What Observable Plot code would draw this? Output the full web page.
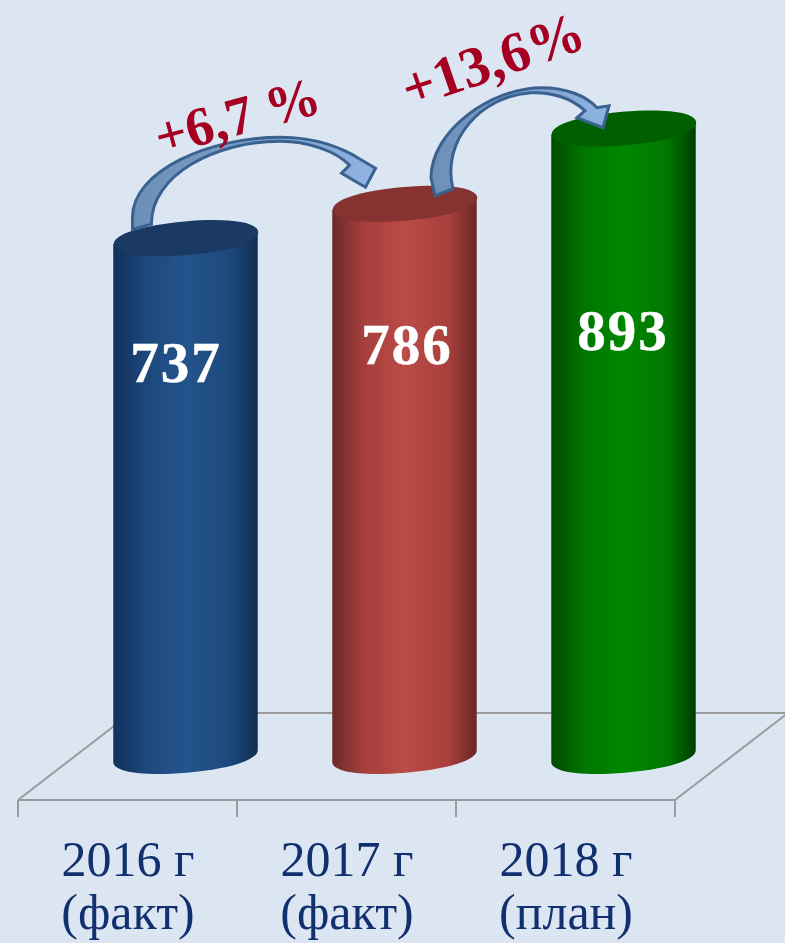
<!DOCTYPE html>
<html>
<head>
<meta charset="utf-8">
<style>
html,body{margin:0;padding:0;background:#dce6f2;overflow:hidden}
svg{display:block}
.val text{letter-spacing:2px}
</style>
<script src="https://cdn.jsdelivr.net/npm/d3@7"></script>
<script src="https://cdn.jsdelivr.net/npm/@observablehq/plot@0.6"></script>
</head>
<body>
<script>
// ---- data ----
const categories = ["2016", "2017", "2018"];
const statuses = ["факт", "факт", "план"];
const values = [737, 786, 893];
const growthLabels = ["+6,7 %", "+13,6%"];

// ---- styling ----
const sideStops = [
  ["#12305a", "#1c477b", "#24548c", "#1d497d", "#112c50"],
  ["#6b2a28", "#a63f3c", "#ba4b47", "#aa403d", "#682725"],
  ["#004a00", "#007500", "#008700", "#007800", "#003c00"]
];
const capFills = ["#1a3a63", "#853230", "#006000"];
const valueLabelDrop = [126, 142, 203];   // px below each cylinder's rim
const BAR_SHIFT = 58, CYL_WIDTH = 145, TILT = -5, RX = 72.5, RY = 16.8, K = 0.6;
const SERIF = "'Liberation Serif', serif";

const rows = categories.map((c, i) => ({category: c, value: values[i], i}));
const labelFor = new Map(categories.map((c, i) => [c, `${c} г\n(${statuses[i]})`]));

// ---- shapes ----
const ellipseSymbol = {
  draw(ctx) {
    ctx.moveTo(-RX, 0);
    ctx.bezierCurveTo(-RX, -K * RY, -K * RX, -RY, 0, -RY);
    ctx.bezierCurveTo(K * RX, -RY, RX, -K * RY, RX, 0);
    ctx.bezierCurveTo(RX, K * RY, K * RX, RY, 0, RY);
    ctx.bezierCurveTo(-K * RX, RY, -RX, K * RY, -RX, 0);
    ctx.closePath();
  }
};
function pathSymbol(cmds) {
  return {
    draw(ctx) {
      cmds.forEach((c, i) => {
        if (i === 0) ctx.moveTo(c[0], c[1]);
        else if (c.length === 2) ctx.lineTo(c[0], c[1]);
        else ctx.bezierCurveTo(...c);
      });
      ctx.closePath();
    }
  };
}
// Arrow outlines, in px relative to the rim of the cylinder they leave.
const arrows = [
  pathSymbol([
    [-53.5,-9],[-53.5,-21],
    [-53.5,-68, 24.5,-101, 94.5,-101],
    [129.5,-101, 156.5,-90, 172.5,-80],
    [189.5,-70],[179.5,-51],[155.5,-65],[163.5,-73],
    [149.5,-88, 119.5,-97, 94.5,-97],
    [29.5,-97, -35.5,-63, -34.5,-14]
  ]),
  pathSymbol([
    [30,-8],[26,-26],
    [26,-73, 86,-116, 137,-116],
    [161,-116, 181,-108, 192,-96],
    [204,-98],[198,-76],[172,-86],[180,-93],
    [166,-106, 146,-112, 126,-111],
    [76,-108, 36,-63, 48,-15]
  ])
];

// ---- defs ----
function defs() {
  const ns = "http://www.w3.org/2000/svg";
  const d = document.createElementNS(ns, "defs");
  const grad = (id, stops) => {
    const g = document.createElementNS(ns, "linearGradient");
    g.setAttribute("id", id);
    stops.forEach(([o, c]) => {
      const s = document.createElementNS(ns, "stop");
      s.setAttribute("offset", o);
      s.setAttribute("stop-color", c);
      g.appendChild(s);
    });
    d.appendChild(g);
  };
  const offs = [0, 0.22, 0.5, 0.8, 1];
  sideStops.forEach((st, i) => grad(`side${i}`, st.map((c, j) => [offs[j], c])));
  grad("arrowFill", [[0, "#6c8fb8"], [0.5, "#7da0ca"], [1, "#8fb4e4"]]);
  return d;
}

// turn each bar's rectangle into a cylinder side with a curved foot
function cylinderSide(index, scales, vals, dims, ctx, next) {
  const g = next(index, scales, vals, dims, ctx);
  const a = TILT * Math.PI / 180, cos = Math.cos(a), sin = Math.sin(a);
  g.querySelectorAll("rect").forEach(r => {
    const x = +r.getAttribute("x"), y = +r.getAttribute("y");
    const w = +r.getAttribute("width"), h = +r.getAttribute("height");
    const at = (cx, cy) => (px, py) => `${cx + px * cos - py * sin},${cy + px * sin + py * cos}`;
    const top = at(x + w / 2, y), foot = at(x + w / 2, y + h);
    const p = document.createElementNS("http://www.w3.org/2000/svg", "path");
    p.setAttribute("d",
      `M${top(-RX, 0)}L${foot(-RX, 0)}` +
      `C${foot(-RX, K * RY)} ${foot(-K * RX, RY)} ${foot(0, RY)}` +
      `C${foot(K * RX, RY)} ${foot(RX, K * RY)} ${foot(RX, 0)}` +
      `L${top(RX, 0)}Z`);
    p.setAttribute("fill", r.getAttribute("fill"));
    r.replaceWith(p);
  });
  return g;
}

// the floor of the 3D chart, placed from the x scale
function floor(index, scales, vals, dims) {
  const ns = "http://www.w3.org/2000/svg";
  const g = document.createElementNS(ns, "g");
  const bw = scales.x.bandwidth();
  const left = scales.x(categories[0]);
  const right = scales.x(categories[categories.length - 1]) + bw;
  const front = dims.height - dims.marginBottom;
  const back = scales.y(0) - 43;
  const depth = 113;
  const line = (x1, y1, x2, y2) => {
    const l = document.createElementNS(ns, "line");
    Object.entries({x1, y1, x2, y2}).forEach(([k, v]) => l.setAttribute(k, v));
    l.setAttribute("stroke", "#9b9b9b");
    l.setAttribute("stroke-width", 2);
    g.appendChild(l);
  };
  line(left, front, right, front);
  line(left, front, left + depth, back);
  line(right, front, right + depth, back);
  line(left + depth, back, right + depth, back);
  categories.forEach(c => line(scales.x(c), front, scales.x(c), front + 17));
  line(right, front, right, front + 17);
  return g;
}

const chart = Plot.plot({
  width: 785,
  height: 943,
  marginTop: 0,
  marginLeft: 18,
  marginRight: 110,
  marginBottom: 143,
  style: {background: "transparent", overflow: "visible"},
  x: {domain: categories, padding: 0, label: null},
  y: {domain: [0, 893], range: [756, 128], axis: null},
  color: {type: "identity"},
  marks: [
    defs,
    Plot.barY([0], {x: () => categories[0], y: () => 0, render: floor}),
    Plot.axisX({
      tickSize: 0,
      tickPadding: 38,
      lineAnchor: "top",
      label: null,
      tickFormat: c => labelFor.get(c),
      fontSize: 50,
      fontFamily: SERIF,
      fill: "#12306f",
      lineHeight: 1.06
    }),
    Plot.barY(rows, {
      x: "category",
      y: "value",
      fill: d => `url(#side${d.i})`,
      insetLeft: (219 - CYL_WIDTH) / 2,
      insetRight: (219 - CYL_WIDTH) / 2,
      dx: BAR_SHIFT,
      render: cylinderSide
    }),
    Plot.dot(rows, {
      x: "category",
      y: "value",
      dx: BAR_SHIFT,
      symbol: ellipseSymbol,
      rotate: TILT,
      fill: d => capFills[d.i]
    }),
    ...rows.slice(0, 2).map((row, i) => Plot.dot([row], {
      x: "category",
      y: "value",
      dx: BAR_SHIFT,
      symbol: arrows[i],
      fill: "url(#arrowFill)",
      stroke: "#3a6290",
      strokeWidth: 3,
      strokeLinejoin: "miter"
    })),
    ...rows.map((row, i) => Plot.text([row], {
      x: "category",
      y: "value",
      text: d => String(d.value),
      className: "val",
      dx: [-11, 1, -2][i] + BAR_SHIFT + 1,
      dy: valueLabelDrop[i],
      fontFamily: SERIF,
      fontWeight: 700,
      fontSize: 57,
      stroke: "white",
      strokeWidth: 0.4,
      fill: "white"
    })),
    ...rows.slice(0, 2).map((row, i) => Plot.text([row], {
      x: "category",
      y: "value",
      text: () => growthLabels[i],
      dx: [109.5, 146][i],
      dy: [-121, -143][i],
      rotate: [-15, -19][i],
      fontFamily: SERIF,
      fontWeight: 700,
      fontSize: [55, 57][i],
      fill: "#a50021"
    }))
  ]
});
document.body.appendChild(chart);
</script>
</body>
</html>
